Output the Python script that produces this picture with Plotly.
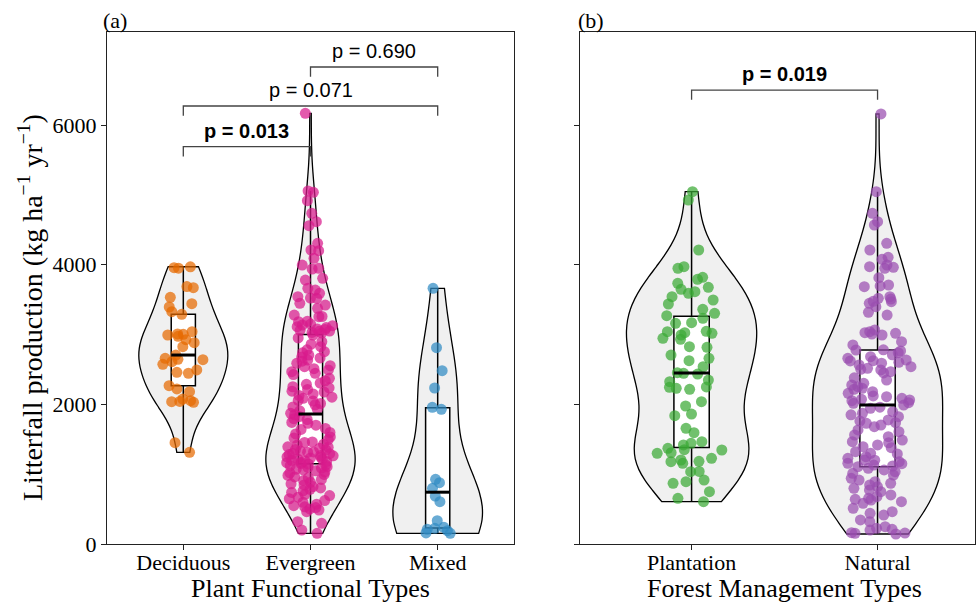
import numpy as np
import plotly.graph_objects as go

# ---------------- data ----------------
pft_labels = ["Deciduous", "Evergreen", "Mixed"]
fmt_labels = ["Plantation", "Natural"]

deciduous = [3957, 3950, 3970, 3687, 3670, 3532, 3441, 3394, 3327, 3289, 3040, 3003,
             3008, 2993, 2974, 2926, 2883, 2826, 2706, 2659, 2645, 2640, 2611, 2573,
             2492, 2459, 2445, 2267, 2220, 2181, 2076, 2052, 2038, 2041, 2029, 1451, 1313]

evergreen = [6168, 5055, 5036, 4916, 4735, 4616, 4558, 4306, 4210, 4200, 4091, 3995,
             3938, 3948, 3805, 3780, 3661, 3637, 3590, 3541, 3518, 3522, 3447, 3422,
             3375, 3279, 3255, 3258, 3183, 3136, 3126, 3112, 3079, 3190, 3150, 3100,
             3070, 3060, 3050, 3045, 3030, 3020,
             2993, 2951, 2897, 2862, 2826, 2781, 2754, 2738, 2706, 2677, 2664, 2635,
             2618, 2587, 2553, 2539, 2511, 2492, 2468, 2444, 2426, 2373, 2338, 2304,
             2287, 2252, 2236, 2214, 2188, 2176, 2149, 2127, 2103, 2086, 2058, 2047,
             2012, 1994, 1963, 1928, 1907, 1872, 1851,
             1826, 1795, 1783, 1741, 1728, 1702, 1655, 1641, 1598, 1577, 1533, 1518,
             1496, 1462, 1455, 1428, 1417, 1392, 1386, 1371, 1352, 1347, 1331, 1318,
             1314, 1296, 1293, 1281, 1268, 1262, 1249, 1244, 1232, 1219, 1214, 1198,
             1193, 1182, 1171, 1164, 1152, 1145, 1133,
             1122, 1108, 1096, 1087, 1071, 1063, 1048, 1032, 1019, 996, 982, 961,
             947, 925, 908, 883, 862, 846, 822, 803, 784, 761, 738, 712, 694, 671,
             648, 622, 597, 571, 548, 532, 521, 503, 487, 463, 320, 296, 200, 153]

mixed = [3661, 2811, 2482, 2234, 1929, 1958, 926, 878, 797, 687, 606, 334,
         239, 225, 210, 190, 153, 158]

plantation = [5045, 4926, 4210, 3971, 3948, 3819, 3790, 3733, 3676, 3647, 3613, 3590,
              3541, 3494, 3437, 3361, 3304, 3270, 3232, 3169, 3160, 3040, 3046, 3026,
              3017, 2993, 2931, 2946, 2826, 2817, 2706, 2659, 2625, 2539, 2453, 2444,
              2434, 2348, 2324, 2244, 2230, 2215, 2249, 2038, 1976, 1861, 1837, 1657,
              1594, 1465, 1442, 1418, 1370, 1346, 1351, 1307, 1298, 1227, 1203, 1179,
              1155, 1184, 1035, 1039, 916, 869, 892, 749, 654, 606]

natural = [6158, 5045, 4735, 4616, 4568, 4306, 4210, 4105, 4077, 3995, 3962, 3971,
           3948, 3814, 3685, 3695, 3709, 3541, 3518, 3508, 3470, 3476, 3447, 3398,
           3318, 3279, 3065, 3040, 3026, 3017, 2993, 3007, 2897, 2850, 2778, 2764,
           2740, 2682, 2659, 2635, 2625, 2621, 2602, 2564, 2539, 2516, 2502, 2492,
           2468, 2348, 2301, 2277, 2253, 2230, 2215, 2181, 2158, 2110, 2086, 2072,
           2062, 2052, 2024, 2015, 1943, 1895, 1871, 1823, 1776, 1737, 1728, 1704,
           1633, 1608, 1561, 1537, 1489, 1465, 1418, 1394, 1322, 1298, 1251, 1227,
           1203, 1179, 1155, 1131, 1117, 1108, 1084, 1060, 1035, 1012, 988, 941,
           916, 892, 869, 845, 821, 797, 773, 749, 702, 677, 654, 640, 630, 606,
           583, 511, 463, 440, 415, 344, 320, 248, 225, 210, 200, 162, 153, 143,
           157, 2780, 2710, 2590, 2450, 2380, 2120, 1990, 1960, 1850, 1760, 1680,
           1450, 1380, 1290, 1200, 1150]

pft_colors = ["#e66a00", "#d81b8c", "#2f8ac4"]
fmt_colors = ["#3aa935", "#9a4db0"]

# significance brackets: (text, left group, right group, bold, bracket level)
pft_tests = [("p = 0.013", 0, 1, True, 5690),
             ("p = 0.071", 0, 2, False, 6272),
             ("p = 0.690", 1, 2, False, 6831)]
fmt_tests = [("p = 0.019", 0, 1, True, 6501)]

y_ticks = [0, 2000, 4000, 6000]

SERIF = "Liberation Serif"
SANS = "Liberation Sans"

fig = go.Figure()
shapes = []
annotations = []


def add_panel(groups, colors, xa, ya):
    # violins
    for i, vals in enumerate(groups):
        v = np.array(vals, dtype=float)
        bw = v.std(ddof=1) * len(v) ** (-0.2)
        fig.add_trace(go.Violin(
            x=[i] * len(v), y=v, xaxis=xa, yaxis=ya,
            width=0.7, scalemode="width", spanmode="hard", bandwidth=bw,
            fillcolor="#f0f0f0", line=dict(color="black", width=1.3),
            points=False, box_visible=False, meanline_visible=False,
            showlegend=False, hoverinfo="skip"))
    # boxes
    for i, vals in enumerate(groups):
        v = np.array(vals, dtype=float)
        q1, med, q3 = np.percentile(v, [25, 50, 75])
        iqr = q3 - q1
        lf = v[v >= q1 - 1.5 * iqr].min()
        uf = v[v <= q3 + 1.5 * iqr].max()
        fig.add_trace(go.Box(
            x=[i], q1=[q1], median=[med], q3=[q3], lowerfence=[lf], upperfence=[uf],
            xaxis=xa, yaxis=ya, width=0.19, fillcolor="white",
            line=dict(color="black", width=1.5), whiskerwidth=0,
            boxpoints=False, showlegend=False, hoverinfo="skip"))
        shapes.append(dict(type="line", xref=xa, yref=ya,
                           x0=i - 0.095, x1=i + 0.095, y0=med, y1=med,
                           line=dict(color="black", width=3), layer="above"))
    # jittered points
    for i, vals in enumerate(groups):
        v = np.array(vals, dtype=float)
        fig.add_trace(go.Box(
            x=[i] * len(v), y=v, xaxis=xa, yaxis=ya,
            boxpoints="all", jitter=1, pointpos=0, width=0.38,
            fillcolor="rgba(0,0,0,0)", line=dict(color="rgba(0,0,0,0)", width=0),
            marker=dict(color=colors[i], size=11, opacity=0.72),
            showlegend=False, hoverinfo="skip"))


def add_brackets(tests, xa, ya):
    for text, a, b, bold, level in tests:
        drop = 140
        shapes.append(dict(type="path", xref=xa, yref=ya,
                           path=f"M {a},{level - drop} L {a},{level} L {b},{level} L {b},{level - drop}",
                           line=dict(color="#444444", width=1.3), layer="above"))
        annotations.append(dict(xref=xa, yref=ya, x=(a + b) / 2, y=level + 40,
                                text=f"<b>{text}</b>" if bold else text,
                                showarrow=False, xanchor="center", yanchor="bottom",
                                font=dict(family=SANS, size=20, color="black")))


add_panel([deciduous, evergreen, mixed], pft_colors, "x", "y")
add_panel([plantation, natural], fmt_colors, "x2", "y2")
add_brackets(pft_tests, "x", "y")
add_brackets(fmt_tests, "x2", "y2")

W, H = 976, 603
ydom = [(H - 544) / H, (H - 32) / H]

annotations += [
    dict(xref="paper", yref="paper", x=30 / W, y=(H - 308) / H,
         text="Litterfall production (kg ha<sup>−1</sup> yr<sup>−1</sup>)",
         textangle=-90, showarrow=False, xanchor="center", yanchor="middle",
         font=dict(family=SERIF, size=28, color="black")),
    dict(xref="paper", yref="paper", x=(107 + 514) / 2 / W, y=(H - 588) / H,
         text="Plant Functional Types", showarrow=False,
         xanchor="center", yanchor="middle",
         font=dict(family=SERIF, size=26, color="black")),
    dict(xref="paper", yref="paper", x=(580 + 988) / 2 / W, y=(H - 588) / H,
         text="Forest Management Types", showarrow=False,
         xanchor="center", yanchor="middle",
         font=dict(family=SERIF, size=26, color="black")),
    dict(xref="paper", yref="paper", x=115 / W, y=(H - 21) / H, text="(a)",
         showarrow=False, yanchor="middle", xanchor="center",
         font=dict(family=SERIF, size=22, color="black")),
    dict(xref="paper", yref="paper", x=591 / W, y=(H - 21) / H, text="(b)",
         showarrow=False, yanchor="middle", xanchor="center",
         font=dict(family=SERIF, size=22, color="black")),
]

axis_common = dict(showline=True, mirror=True, linecolor="#222222", linewidth=1.3,
                   ticks="outside", ticklen=5, tickwidth=1.2, tickcolor="#222222",
                   showgrid=False, zeroline=False, automargin=False,
                   tickfont=dict(family=SERIF, size=22, color="black"))

fig.update_layout(
    width=W, height=H, margin=dict(l=0, r=0, t=0, b=0, pad=0, autoexpand=False),
    paper_bgcolor="white", plot_bgcolor="white", showlegend=False,
    violinmode="overlay", boxmode="overlay",
    xaxis=dict(domain=[107 / W, 514 / W], range=[-0.6, 2.6], anchor="y",
               tickvals=list(range(len(pft_labels))), ticktext=pft_labels,
               ticklabelstandoff=-7, **axis_common),
    yaxis=dict(domain=ydom, range=[0, 7332], anchor="x", tickvals=y_ticks, **axis_common),
    xaxis2=dict(domain=[580 / W, 975 / W], range=[-0.6, 1.524], anchor="y2",
                tickvals=list(range(len(fmt_labels))), ticktext=fmt_labels,
                ticklabelstandoff=-7, **axis_common),
    yaxis2=dict(domain=ydom, range=[0, 7332], anchor="x2", tickvals=y_ticks,
                showticklabels=False, **axis_common),
    shapes=shapes, annotations=annotations,
)

fig.write_html("out.html", config={"responsive": False})
